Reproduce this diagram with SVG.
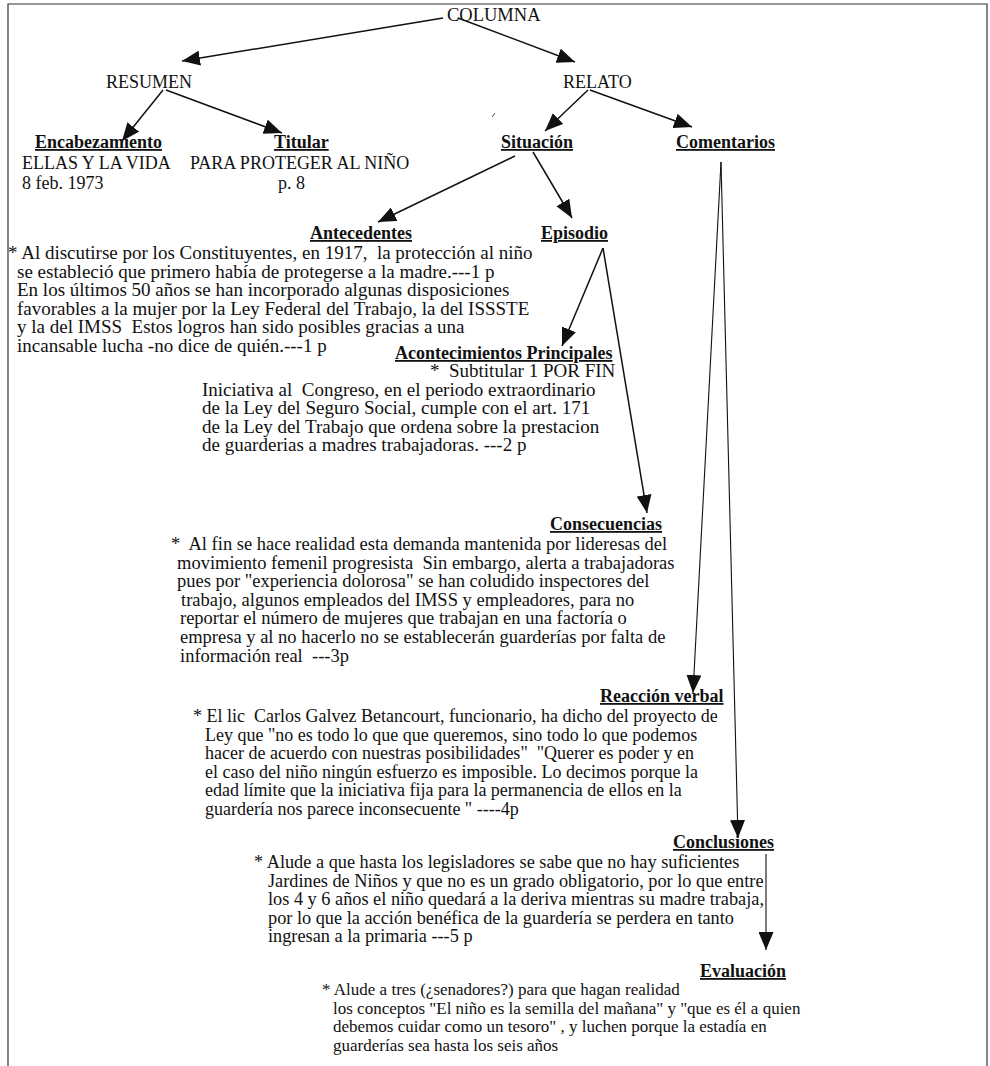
<svg xmlns="http://www.w3.org/2000/svg" width="990" height="1066" viewBox="0 0 990 1066">
<style>
text { font-family: "Liberation Serif", "Times New Roman", serif; fill: #111; white-space: pre; }
.lab { font-size: 18px; }
.top { font-size: 18.5px; }
.h { font-size: 18px; font-weight: bold; text-decoration: underline; }
.b19 { font-size: 19px; }
.b185 { font-size: 18.5px; }
.b18 { font-size: 18px; }
.b183 { font-size: 18.3px; }
.b17 { font-size: 17px; }
.c { stroke: #111; stroke-width: 1.5; fill: none; marker-end: url(#ah); }
.thin { stroke-width: 1.1; }
.frame { stroke: #333; stroke-width: 1.2; fill: none; }
</style>
<defs>
<marker id="ah" markerUnits="userSpaceOnUse" markerWidth="18" markerHeight="15" refX="18" refY="7.5" orient="auto">
<path d="M0,0 L18,7.5 L0,15 Z" fill="#111"/>
</marker>
</defs>
<rect width="990" height="1066" fill="#fff"/>
<path class="frame" d="M8,1066 V4 H987 V1066"/>
<line x1="492" y1="117" x2="495" y2="113" stroke="#555" stroke-width="1"/>

<g id="connectors">
<line class="c" x1="443" y1="18" x2="182" y2="61"/>
<line class="c" x1="458" y1="18" x2="575" y2="62"/>
<line class="c" x1="163" y1="90" x2="122" y2="141"/>
<line class="c" x1="166" y1="90" x2="282" y2="133"/>
<line class="c" x1="588" y1="90" x2="545" y2="131"/>
<line class="c" x1="590" y1="90" x2="692" y2="127"/>
<line class="c" x1="515" y1="156" x2="378" y2="222"/>
<line class="c" x1="533" y1="152" x2="572" y2="218"/>
<line class="c" x1="603" y1="248" x2="562" y2="346"/>
<line class="c" x1="603" y1="248" x2="647" y2="513"/>
<line class="c thin" x1="721" y1="162" x2="693" y2="693"/>
<line class="c thin" x1="721" y1="162" x2="738" y2="838"/>
<line class="c thin" x1="766" y1="854" x2="766" y2="950"/>
</g>

<g id="columna"><text class="top" x="447" y="21">COLUMNA</text></g>
<g id="resumen"><text class="lab" x="106" y="88">RESUMEN</text></g>
<g id="relato"><text class="lab" x="563" y="88">RELATO</text></g>

<g id="encabezamiento">
<text class="h" x="35" y="148">Encabezamiento</text>
<text class="lab" x="22" y="169">ELLAS Y LA VIDA</text>
<text class="lab" x="22" y="189">8 feb. 1973</text>
</g>
<g id="titular">
<text class="h" x="274" y="148">Titular</text>
<text class="lab" x="190" y="169">PARA PROTEGER AL NIÑO</text>
<text class="lab" x="278" y="189">p. 8</text>
</g>
<g id="situacion"><text class="h" x="501" y="148">Situación</text></g>
<g id="comentarios"><text class="h" x="676" y="148">Comentarios</text></g>

<g id="antecedentes">
<text class="h" x="310" y="239">Antecedentes</text>
<text class="b19" x="8" y="259">* Al discutirse por los Constituyentes, en 1917,  la protección al niño</text>
<text class="b19" x="17" y="277.6">se estableció que primero había de protegerse a la madre.---1 p</text>
<text class="b19" x="17" y="296.2">En los últimos 50 años se han incorporado algunas disposiciones</text>
<text class="b19" x="17" y="314.8">favorables a la mujer por la Ley Federal del Trabajo, la del ISSSTE</text>
<text class="b19" x="17" y="333.4">y la del IMSS  Estos logros han sido posibles gracias a una</text>
<text class="b19" x="17" y="352">incansable lucha -no dice de quién.---1 p</text>
</g>
<g id="episodio"><text class="h" x="541" y="239">Episodio</text></g>

<g id="acontecimientos">
<text class="h" x="395" y="359">Acontecimientos Principales</text>
<text class="b19" x="430" y="377">*  Subtitular 1 POR FIN</text>
<text class="b19" x="202" y="395.5">Iniciativa al  Congreso, en el periodo extraordinario</text>
<text class="b19" x="202" y="414">de la Ley del Seguro Social, cumple con el art. 171</text>
<text class="b19" x="202" y="432.5">de la Ley del Trabajo que ordena sobre la prestacion</text>
<text class="b19" x="202" y="451">de guarderias a madres trabajadoras. ---2 p</text>
</g>

<g id="consecuencias">
<text class="h" x="550" y="530">Consecuencias</text>
<text class="b185" x="171" y="550">*  Al fin se hace realidad esta demanda mantenida por lideresas del</text>
<text class="b185" x="177" y="568.6">movimiento femenil progresista  Sin embargo, alerta a trabajadoras</text>
<text class="b185" x="177" y="587.2">pues por "experiencia dolorosa" se han coludido inspectores del</text>
<text class="b185" x="181" y="605.8">trabajo, algunos empleados del IMSS y empleadores, para no</text>
<text class="b185" x="180" y="624.4">reportar el número de mujeres que trabajan en una factoría o</text>
<text class="b185" x="180" y="643">empresa y al no hacerlo no se establecerán guarderías por falta de</text>
<text class="b185" x="180" y="661.6">información real  ---3p</text>
</g>

<g id="reaccion-verbal">
<text class="h" x="600" y="702">Reacción verbal</text>
<text class="b18" x="193" y="722">* El lic  Carlos Galvez Betancourt, funcionario, ha dicho del proyecto de</text>
<text class="b18" x="205" y="740.6">Ley que "no es todo lo que que queremos, sino todo lo que podemos</text>
<text class="b18" x="205" y="759.2">hacer de acuerdo con nuestras posibilidades"  "Querer es poder y en</text>
<text class="b18" x="205" y="777.8">el caso del niño ningún esfuerzo es imposible. Lo decimos porque la</text>
<text class="b18" x="205" y="796.4">edad límite que la iniciativa fija para la permanencia de ellos en la</text>
<text class="b18" x="205" y="815">guardería nos parece inconsecuente " ----4p</text>
</g>

<g id="conclusiones">
<text class="h" x="673" y="848">Conclusiones</text>
<text class="b183" x="254" y="868">* Alude a que hasta los legisladores se sabe que no hay suficientes</text>
<text class="b183" x="268" y="886.6">Jardines de Niños y que no es un grado obligatorio, por lo que entre</text>
<text class="b183" x="268" y="905.2">los 4 y 6 años el niño quedará a la deriva mientras su madre trabaja,</text>
<text class="b183" x="268" y="923.8">por lo que la acción benéfica de la guardería se perdera en tanto</text>
<text class="b183" x="268" y="942.4">ingresan a la primaria ---5 p</text>
</g>

<g id="evaluacion">
<text class="h" x="700" y="977">Evaluación</text>
<text class="b17" x="322" y="995">* Alude a tres (¿senadores?) para que hagan realidad</text>
<text class="b17" x="333" y="1013.6">los conceptos "El niño es la semilla del mañana" y "que es él a quien</text>
<text class="b17" x="333" y="1032.2">debemos cuidar como un tesoro" , y luchen porque la estadía en</text>
<text class="b17" x="333" y="1050.8">guarderías sea hasta los seis años</text>
</g>
</svg>
